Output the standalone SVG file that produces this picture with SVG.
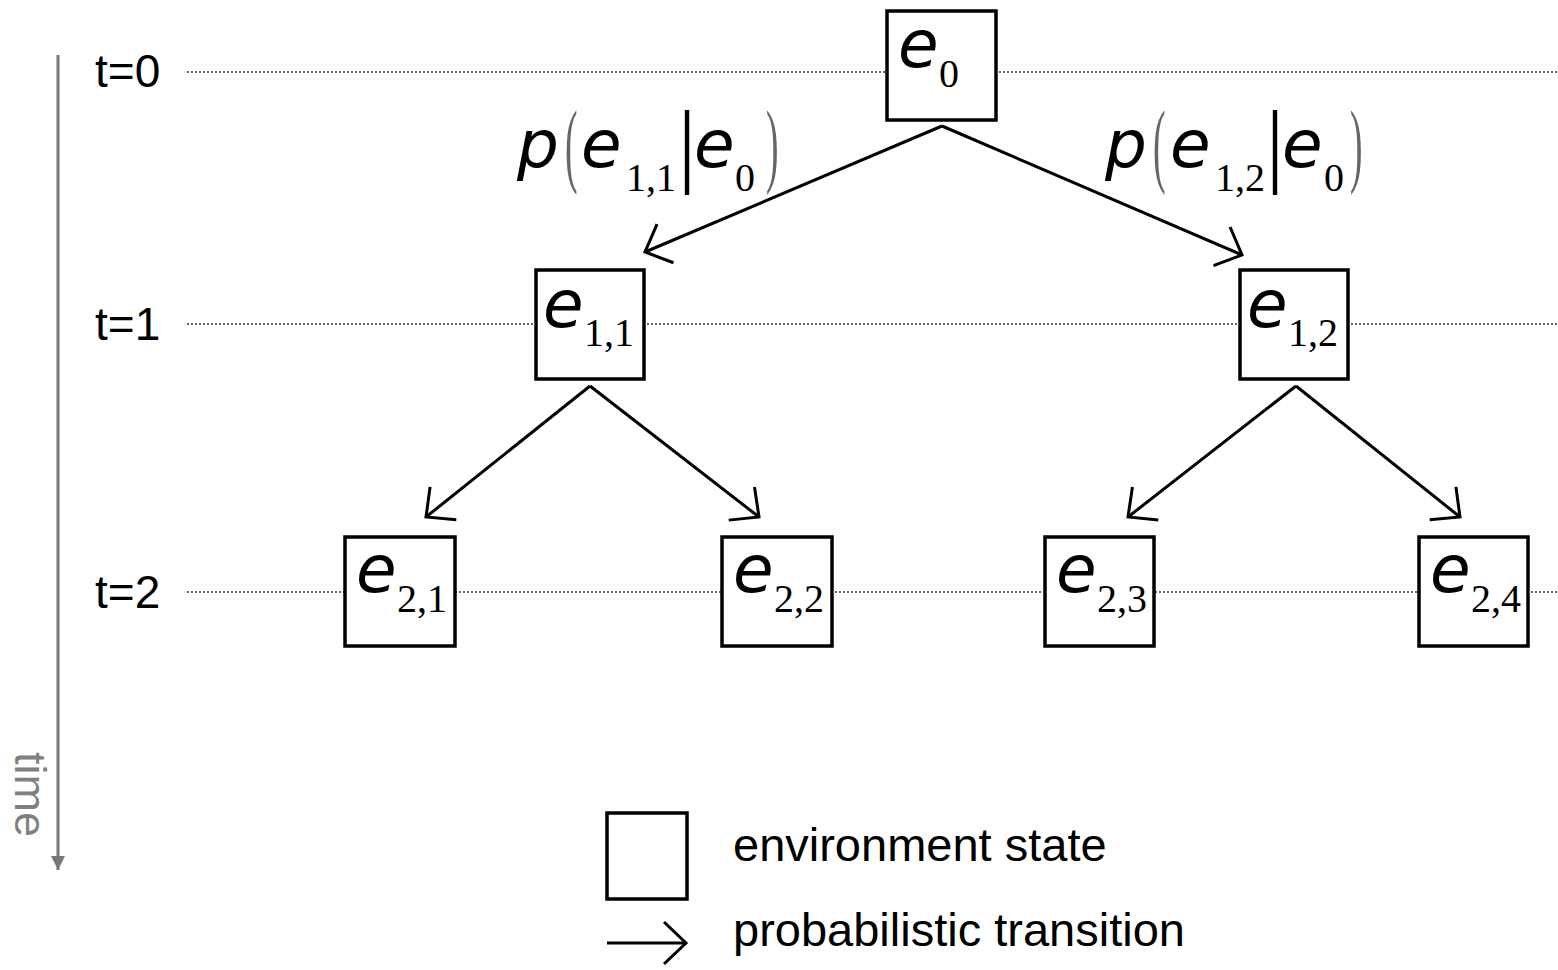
<svg xmlns="http://www.w3.org/2000/svg" width="1558" height="970" viewBox="0 0 1558 970">
<style>
.box{fill:#fff;stroke:#000;stroke-width:3.5}
.grid{stroke:#333;stroke-width:1.5;stroke-dasharray:2,2;fill:none}
.conn{stroke:#000;stroke-width:3;fill:none}
.tl{font-family:"Liberation Sans",Arial,sans-serif;font-size:46px;fill:#000}
.lg{font-family:"Liberation Sans",Arial,sans-serif;font-size:47px;fill:#000}
.ev{font-family:"DejaVu Sans",sans-serif;font-style:italic;font-size:66px;fill:#000}
.sub{font-family:"Liberation Serif","Times New Roman",serif;font-size:40px;fill:#000}
.par{font-family:"Liberation Serif","Times New Roman",serif;font-size:94px;fill:#666}
.bar{font-family:"Liberation Sans",Arial,sans-serif;font-size:90px;fill:#000}
</style>
<defs>
<marker id="chev" markerUnits="userSpaceOnUse" orient="auto" refX="0" refY="0" markerWidth="60" markerHeight="60" viewBox="-30 -30 60 60" overflow="visible">
<path d="M-22,-21 L0,0 L-22,21" fill="none" stroke="#000" stroke-width="3"/>
</marker>
<marker id="tri" markerUnits="userSpaceOnUse" orient="auto" refX="0" refY="0" markerWidth="30" markerHeight="30" viewBox="-15 -15 30 30" overflow="visible">
<path d="M-14,-7 L0,0 L-14,7 Z" fill="#777"/>
</marker>
</defs>
<rect width="1558" height="970" fill="#fff"/>

<g id="timeaxis">
<line x1="58" y1="55" x2="58" y2="870" stroke="#777" stroke-width="3" marker-end="url(#tri)"/>
<text transform="translate(15,752) rotate(90)" font-family="Liberation Sans,Arial,sans-serif" font-size="45" fill="#808080">time</text>
</g>

<g id="timelines">
<text class="tl" x="95" y="87">t=0</text>
<text class="tl" x="95" y="340">t=1</text>
<text class="tl" x="95" y="608">t=2</text>
<line class="grid" x1="187" y1="72" x2="1558" y2="72"/>
<line class="grid" x1="187" y1="324" x2="1558" y2="324"/>
<line class="grid" x1="187" y1="592" x2="1558" y2="592"/>
</g>

<g id="connectors">
<line class="conn" x1="942" y1="126" x2="645" y2="252" marker-end="url(#chev)"/>
<line class="conn" x1="942" y1="126" x2="1242" y2="255" marker-end="url(#chev)"/>
<line class="conn" x1="590" y1="386" x2="426" y2="517" marker-end="url(#chev)"/>
<line class="conn" x1="590" y1="386" x2="759" y2="517" marker-end="url(#chev)"/>
<line class="conn" x1="1296" y1="386" x2="1128" y2="517" marker-end="url(#chev)"/>
<line class="conn" x1="1296" y1="386" x2="1460" y2="517" marker-end="url(#chev)"/>
</g>

<g id="label-p11">
<text class="ev" x="517" y="167">p</text>
<text class="par" transform="translate(565,175) scale(0.4,1)" x="0" y="0">(</text>
<text class="ev" x="581" y="167">e</text>
<text class="sub" x="626" y="191">1,1</text>
<text class="bar" transform="translate(680,176) scale(0.6,1)" x="0" y="0">|</text>
<text class="ev" x="694" y="167">e</text>
<text class="sub" x="735" y="191">0</text>
<text class="par" transform="translate(766,175) scale(0.4,1)" x="0" y="0">)</text>
</g>

<g id="label-p12">
<text class="ev" x="1105" y="167">p</text>
<text class="par" transform="translate(1153,175) scale(0.4,1)" x="0" y="0">(</text>
<text class="ev" x="1170" y="167">e</text>
<text class="sub" x="1215" y="191">1,2</text>
<text class="bar" transform="translate(1268,176) scale(0.6,1)" x="0" y="0">|</text>
<text class="ev" x="1282" y="167">e</text>
<text class="sub" x="1324" y="191">0</text>
<text class="par" transform="translate(1350,175) scale(0.4,1)" x="0" y="0">)</text>
</g>

<g id="e0">
<rect class="box" x="887" y="11" width="109" height="109"/>
<text class="ev" x="898" y="67">e</text>
<text class="sub" x="939" y="87">0</text>
</g>
<g id="e11">
<rect class="box" x="536" y="270" width="108" height="109"/>
<text class="ev" x="543" y="327">e</text>
<text class="sub" x="584" y="346">1,1</text>
</g>
<g id="e12">
<rect class="box" x="1240" y="270" width="108" height="109"/>
<text class="ev" x="1247" y="327">e</text>
<text class="sub" x="1288" y="346">1,2</text>
</g>
<g id="e21">
<rect class="box" x="345" y="537" width="110" height="109"/>
<text class="ev" x="356" y="592">e</text>
<text class="sub" x="397" y="612">2,1</text>
</g>
<g id="e22">
<rect class="box" x="722" y="537" width="110" height="109"/>
<text class="ev" x="733" y="592">e</text>
<text class="sub" x="774" y="612">2,2</text>
</g>
<g id="e23">
<rect class="box" x="1045" y="537" width="109" height="109"/>
<text class="ev" x="1056" y="592">e</text>
<text class="sub" x="1097" y="612">2,3</text>
</g>
<g id="e24">
<rect class="box" x="1419" y="537" width="109" height="109"/>
<text class="ev" x="1430" y="592">e</text>
<text class="sub" x="1471" y="612">2,4</text>
</g>

<g id="legend">
<rect class="box" x="607" y="813" width="80" height="86"/>
<text class="lg" x="733" y="861">environment state</text>
<line class="conn" x1="607" y1="943" x2="686" y2="943" marker-end="url(#chev)"/>
<text class="lg" x="733" y="946">probabilistic transition</text>
</g>
</svg>
